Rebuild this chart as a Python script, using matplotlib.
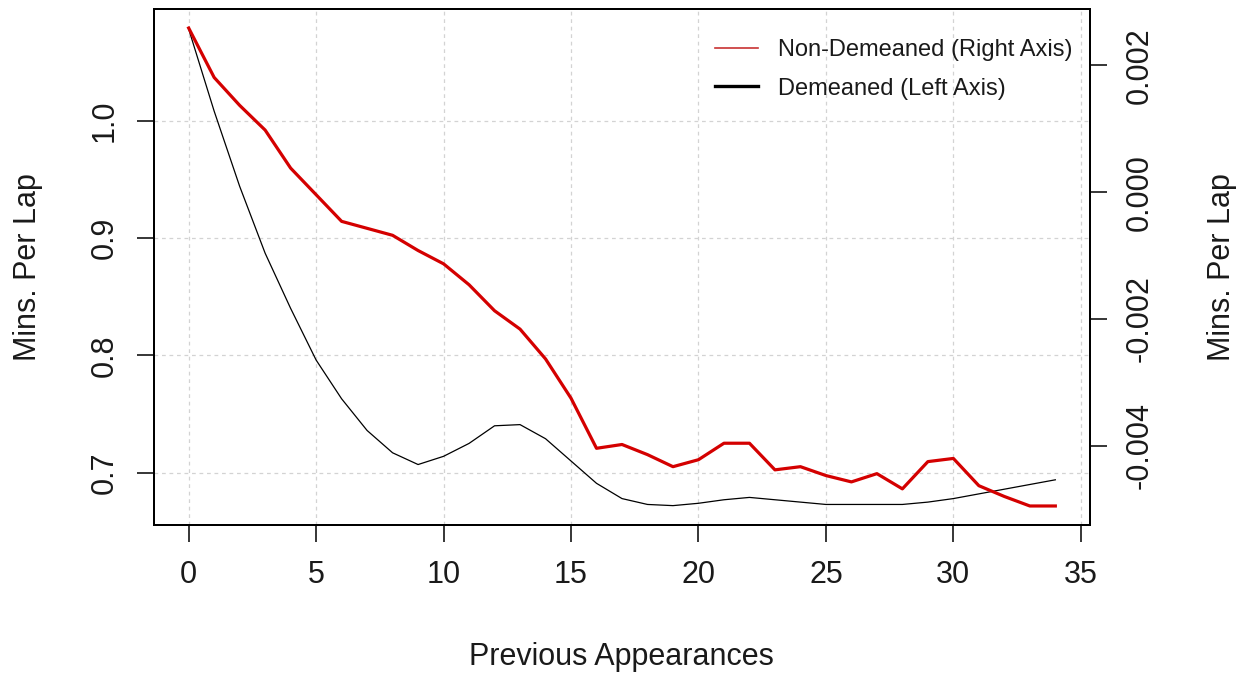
import matplotlib
matplotlib.use('Agg')
import matplotlib.pyplot as plt
from matplotlib.lines import Line2D
from matplotlib.ticker import FormatStrFormatter

plt.rcParams['font.family'] = ['Liberation Sans', 'DejaVu Sans']
plt.rcParams['axes.unicode_minus'] = False

# data
appearances = list(range(35))
demeaned = [1.078, 1.008, 0.944, 0.887, 0.840, 0.796, 0.763, 0.736, 0.717, 0.707,
            0.714, 0.725, 0.740, 0.741, 0.729, 0.710, 0.691, 0.678, 0.673, 0.672,
            0.674, 0.677, 0.679, 0.677, 0.675, 0.673, 0.673, 0.673, 0.673, 0.675,
            0.678, 0.682, 0.686, 0.690, 0.694]
non_demeaned = [0.00259, 0.00181, 0.00137, 0.00098, 0.00038, -0.00004, -0.00046, -0.00057,
                -0.00068, -0.00092, -0.00113, -0.00146, -0.00187, -0.00216, -0.00263,
                -0.00325, -0.00404, -0.00398, -0.00414, -0.00433, -0.00422, -0.00396,
                -0.00396, -0.00438, -0.00433, -0.00447, -0.00457, -0.00444, -0.00468,
                -0.00425, -0.00420, -0.00463, -0.00480, -0.00495, -0.00495]
x_ticks = [0, 5, 10, 15, 20, 25, 30, 35]
left_ticks = [0.7, 0.8, 0.9, 1.0]
right_ticks = [-0.004, -0.002, 0.000, 0.002]

W, H = 1244, 673
fig = plt.figure(figsize=(W / 100, H / 100), dpi=100)
l, r, t, b = 154, 1090, 9, 525
ax = fig.add_axes([l / W, (H - b) / H, (r - l) / W, (b - t) / H])
ax2 = ax.twinx()

txt = '#1a1a1a'
fs = 22

ax.plot(appearances, demeaned, color='black', lw=0.9, zorder=3)
ax2.plot(appearances, non_demeaned, color='#d40000', lw=2.3, zorder=3)

ax.set_xlim(-1.36, 35.36)
ax.set_ylim(0.6555, 1.0950)
ax2.set_ylim(-0.00525, 0.00289)

ax.set_xticks(x_ticks)
ax.set_yticks(left_ticks)
ax2.set_yticks(right_ticks)
ax.yaxis.set_major_formatter(FormatStrFormatter('%.1f'))
ax2.yaxis.set_major_formatter(FormatStrFormatter('%.3f'))

ax.grid(True, color='#d3d3d3', linestyle=(0, (3, 3)), lw=0.9)
ax.set_axisbelow(True)

for a in (ax, ax2):
    for sp in a.spines.values():
        sp.set_linewidth(1.4)
        sp.set_color('black')
    a.tick_params(direction='out', length=12, width=1.1, color='black',
                  labelsize=fs, labelcolor=txt, pad=13)

ax.tick_params(axis='y', labelrotation=90)
ax2.tick_params(axis='y', labelrotation=90)
for lab in ax.get_yticklabels() + ax2.get_yticklabels():
    lab.set_va('center')

fig.text(621 / W, 1 - 657 / H, 'Previous Appearances', ha='center', va='center',
         fontsize=fs, color=txt)
fig.text(28 / W, 1 - 267 / H, 'Mins. Per Lap', ha='center', va='center',
         rotation=90, fontsize=fs, color=txt)
fig.text(1222 / W, 1 - 267 / H, 'Mins. Per Lap', ha='center', va='center',
         rotation=90, fontsize=fs, color=txt)

handles = [Line2D([], [], color='#c83232', lw=1.2),
           Line2D([], [], color='black', lw=2.4)]
labels = ['Non-Demeaned (Right Axis)', 'Demeaned (Left Axis)']
leg = ax2.legend(handles, labels, loc='upper left', bbox_to_anchor=(715 / W, 1 - 39 / H),
                 bbox_transform=fig.transFigure, frameon=False, fontsize=17,
                 handlelength=1.82, handletextpad=0.85, labelspacing=0.70,
                 borderpad=0, borderaxespad=0)
for tx in leg.get_texts():
    tx.set_color(txt)

fig.savefig('out.png', dpi=100)
